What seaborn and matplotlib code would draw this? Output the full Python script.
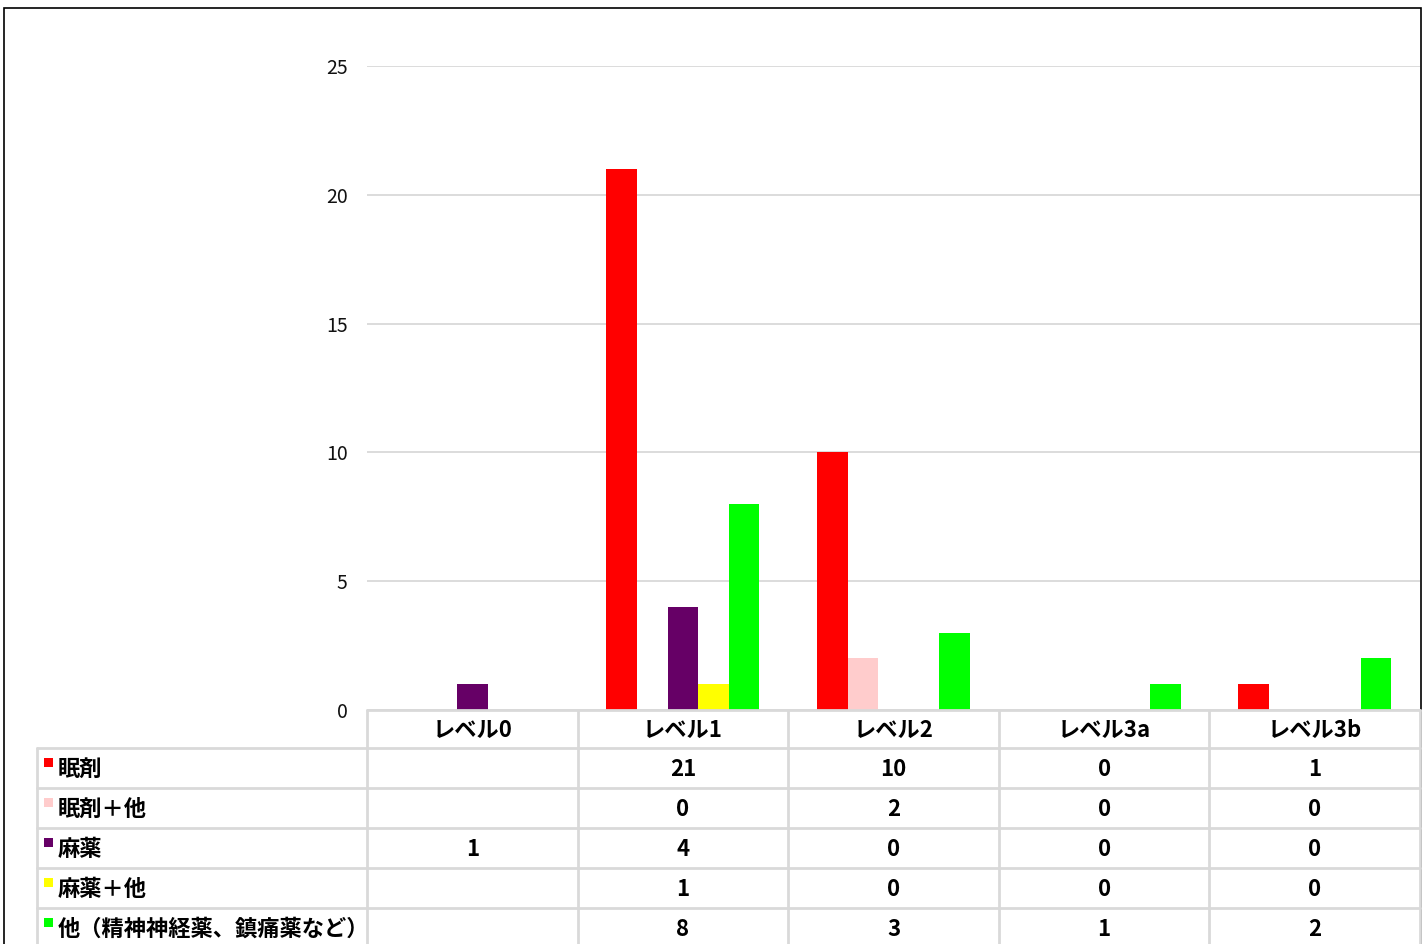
import numpy as np
import pandas as pd
import matplotlib
matplotlib.use("Agg")
import matplotlib.pyplot as plt
from matplotlib.lines import Line2D
from matplotlib.patches import Rectangle
import seaborn as sns

# ---- data -------------------------------------------------------------
levels = ["レベル0", "レベル1", "レベル2", "レベル3a", "レベル3b"]
series_names = ["眠剤", "眠剤＋他", "麻薬", "麻薬＋他", "他（精神神経薬、鎮痛薬など）"]
sleep_drug = [None, 21, 10, 0, 1]
sleep_drug_plus = [None, 0, 2, 0, 0]
narcotic = [1, 4, 0, 0, 0]
narcotic_plus = [None, 1, 0, 0, 0]
other = [None, 8, 3, 1, 2]
colors = ["#FF0000", "#FFCCCC", "#660066", "#FFFF00", "#00FF00"]
y_ticks = [0, 5, 10, 15, 20, 25]

series_values = [sleep_drug, sleep_drug_plus, narcotic, narcotic_plus, other]

rows = []
for name, vals in zip(series_names, series_values):
    for lvl, v in zip(levels, vals):
        rows.append({"level": lvl, "type": name,
                     "count": np.nan if v is None else v})
df = pd.DataFrame(rows)

# ---- figure -----------------------------------------------------------
sns.set_theme(style="white")
plt.rcParams["font.family"] = ["Noto Sans CJK JP", "DejaVu Sans"]

W, H = 1428, 944
fig = plt.figure(figsize=(W / 100, H / 100), dpi=100)
fig.patch.set_facecolor("white")


def fx(px):
    return px / W


def fy(py):
    return 1 - py / H


# plot area
x0, x1 = 367, 1420
y_top, y_base = 66, 710
ax = fig.add_axes([fx(x0), fy(y_base), fx(x1) - fx(x0), fy(y_top) - fy(y_base)])

sns.barplot(data=df, x="level", y="count", hue="type",
            order=levels, hue_order=series_names, palette=colors,
            saturation=1, width=0.727, gap=0, dodge=True,
            linewidth=0, legend=False, errorbar=None, ax=ax)

ax.set_ylim(0, 25)
ax.set_xlim(-0.5, len(levels) - 0.5)
ax.set_yticks(y_ticks)
ax.set_yticklabels([str(t) for t in y_ticks], fontsize=14, color="#111111")
ax.tick_params(axis="y", length=0, pad=14)
ax.set_xticks([])
ax.set_xlabel("")
ax.set_ylabel("")
ax.yaxis.grid(True, color="#d9d9d9", linewidth=1.3)
ax.set_axisbelow(True)
for s in ax.spines.values():
    s.set_visible(False)
ax.patch.set_alpha(0)

# ---- data table below the plot ---------------------------------------
grid_c = "#d9d9d9"
lw = 2.0
label_left = 37
col_edges = [x0 + (x1 - x0) * i / len(levels) for i in range(len(levels) + 1)]
header_top, header_bot = 710, 748
row_h = 40
n_rows = len(series_names)
row_tops = [header_bot + i * row_h for i in range(n_rows + 1)]


def hline(xa, xb, y):
    fig.add_artist(Line2D([fx(xa), fx(xb)], [fy(y), fy(y)],
                          color=grid_c, lw=lw, transform=fig.transFigure))


def vline(x, ya, yb):
    fig.add_artist(Line2D([fx(x), fx(x)], [fy(ya), fy(yb)],
                          color=grid_c, lw=lw, transform=fig.transFigure))


hline(x0, x1, header_top)
for y in row_tops:
    hline(label_left, x1, y)
vline(label_left, header_bot, row_tops[-1])
for i, x in enumerate(col_edges):
    vline(x, header_top, row_tops[-1])

txt_kw = dict(fontsize=16, fontweight="bold", color="black",
              transform=fig.transFigure)

# category headers
for i, lvl in enumerate(levels):
    cx = (col_edges[i] + col_edges[i + 1]) / 2
    fig.text(fx(cx), fy((header_top + header_bot) / 2 + 1), lvl,
             ha="center", va="center", **txt_kw)

# series rows with colour keys and values
for r, (name, vals, c) in enumerate(zip(series_names, series_values, colors)):
    top = row_tops[r]
    cy = top + row_h / 2 + 1
    fig.add_artist(Rectangle((fx(44), fy(top + 19)), fx(9), 9 / H,
                             facecolor=c, edgecolor="none",
                             transform=fig.transFigure))
    fig.text(fx(58), fy(cy), name, ha="left", va="center", **txt_kw)
    for i, v in enumerate(vals):
        if v is None:
            continue
        cx = (col_edges[i] + col_edges[i + 1]) / 2
        fig.text(fx(cx), fy(cy), str(v), ha="center", va="center", **txt_kw)

# outer frame of the chart
fig.add_artist(Rectangle((fx(4), fy(960)), fx(1421 - 4), (960 - 8) / H,
                         facecolor="none", edgecolor="black", lw=1.2,
                         transform=fig.transFigure))

fig.savefig("out.png", dpi=100, facecolor="white")
